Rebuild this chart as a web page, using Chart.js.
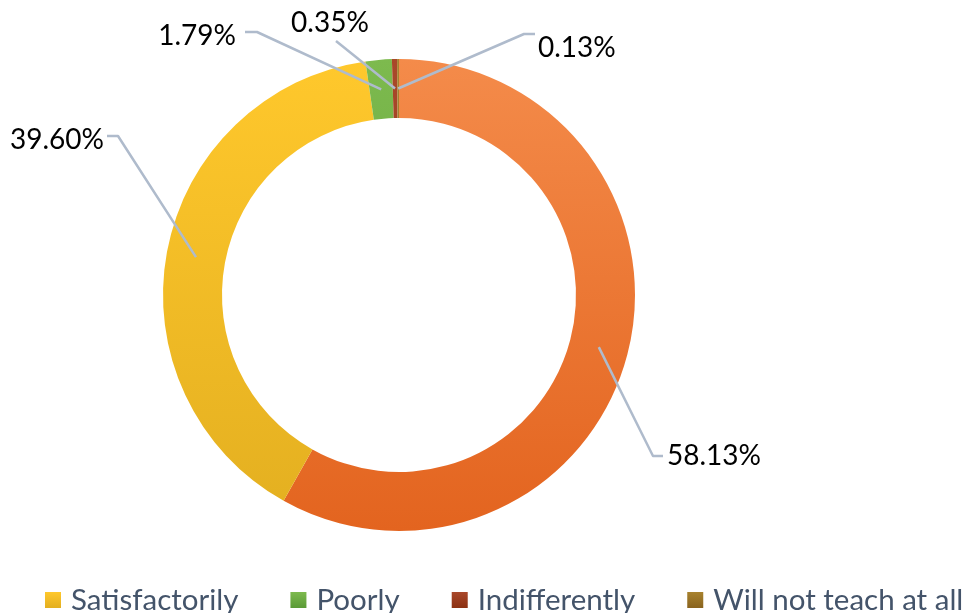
<!DOCTYPE html>
<html>
<head>
<meta charset="utf-8">
<script src="https://cdn.jsdelivr.net/npm/chart.js@4.4.1/dist/chart.umd.min.js"></script>
<style>
  html, body { margin: 0; padding: 0; background: #fff; }
  #wrap { width: 968px; height: 613px; position: relative; overflow: hidden; }
</style>
</head>
<body>
<div id="wrap"><canvas id="chart" width="968" height="613"></canvas></div>
<script>
  // Data
  const categories = ["Well", "Satisfactorily", "Poorly", "Indifferently", "Will not teach at all"];
  const shares = [58.13, 39.60, 1.79, 0.35, 0.13];
  const shareLabels = shares.map(v => v.toFixed(2) + "%");

  // Slice colours (light at top, dark at bottom)
  const colorTop = ["#F48B4A", "#FFC82C", "#7DBA4E", "#A9482A", "#A8822E"];
  const colorBottom = ["#E3641F", "#E3AF20", "#5A9A36", "#8C3112", "#89631E"];

  // Label placement, offsets from the doughnut centre
  const labelLayout = [
    { elbow: [254, 161], tail: [264, 161], text: [268, 161], align: "left" },
    { elbow: [-281, -159], tail: [-292, -159], text: [-295, -155], align: "right" },
    { elbow: [-142, -263], tail: [-154, -263], text: [-163, -259], align: "right" },
    { elbow: [-63, -254], tail: null, text: [-69, -272], align: "center" },
    { elbow: [125, -261], tail: [136, -261], text: [139, -247], align: "left" }
  ];

  const FONT = "Lato, 'Liberation Sans', sans-serif";

  function sliceGradient(context) {
    const chart = context.chart;
    const i = context.dataIndex;
    const area = chart.chartArea;
    if (!area) return colorTop[i];
    const g = chart.ctx.createLinearGradient(0, area.top, 0, area.bottom);
    g.addColorStop(0, colorTop[i]);
    g.addColorStop(1, colorBottom[i]);
    return g;
  }

  // Leader lines + percentage labels
  const leaderLabels = {
    id: "leaderLabels",
    afterDatasetsDraw(chart) {
      const ctx = chart.ctx;
      const arcs = chart.getDatasetMeta(0).data;
      ctx.save();
      arcs.forEach((arc, i) => {
        const lay = labelLayout[i];
        const cx = arc.x, cy = arc.y;
        const p = arc.getCenterPoint();
        ctx.strokeStyle = "#AFBBCC";
        ctx.lineWidth = 2.5;
        ctx.lineJoin = "round";
        ctx.beginPath();
        ctx.moveTo(p.x, p.y);
        ctx.lineTo(cx + lay.elbow[0], cy + lay.elbow[1]);
        if (lay.tail) ctx.lineTo(cx + lay.tail[0], cy + lay.tail[1]);
        ctx.stroke();

        ctx.fillStyle = "#000";
        ctx.font = "28px " + FONT;
        ctx.textAlign = lay.align;
        ctx.textBaseline = "middle";
        ctx.fillText(shareLabels[i], cx + lay.text[0], cy + lay.text[1]);
      });
      ctx.restore();
    }
  };

  // Legend along the bottom (first entry sits outside the visible crop)
  const bottomLegend = {
    id: "bottomLegend",
    afterDraw(chart) {
      const ctx = chart.ctx;
      ctx.save();
      ctx.font = "29.5px " + FONT;
      ctx.textBaseline = "alphabetic";
      ctx.textAlign = "left";
      let x = 45;
      for (let i = 1; i < categories.length; i++) {
        const g = ctx.createLinearGradient(0, 592, 0, 608);
        g.addColorStop(0, colorTop[i]);
        g.addColorStop(1, colorBottom[i]);
        ctx.fillStyle = g;
        ctx.fillRect(x, 592, 16, 16);
        ctx.fillStyle = "#44546A";
        ctx.fillText(categories[i], x + 26, 610);
        x += 26 + ctx.measureText(categories[i]).width + 52;
      }
      ctx.restore();
    }
  };

  const ctx = document.getElementById("chart").getContext("2d");
  new Chart(ctx, {
    type: "doughnut",
    data: {
      labels: categories,
      datasets: [{
        data: shares,
        backgroundColor: sliceGradient,
        borderWidth: 0
      }]
    },
    options: {
      responsive: false,
      animation: false,
      cutout: "75%",
      layout: { padding: { left: 163, right: 333, top: 59, bottom: 82 } },
      plugins: {
        legend: { display: false },
        tooltip: { enabled: false }
      }
    },
    plugins: [leaderLabels, bottomLegend]
  });
</script>
</body>
</html>
